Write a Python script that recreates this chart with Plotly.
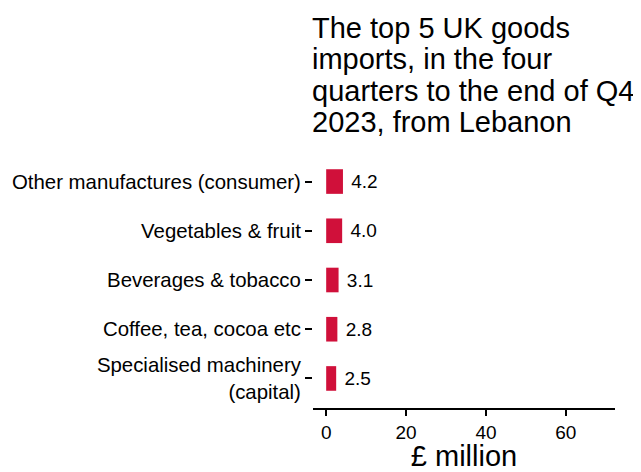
import plotly.graph_objects as go

categories = ["Other manufactures (consumer)", "Vegetables & fruit", "Beverages & tobacco",
              "Coffee, tea, cocoa etc", "Specialised machinery<br>(capital)"]
values = [4.2, 4.0, 3.1, 2.8, 2.5]
title_lines = ["The top 5 UK goods", "imports, in the four",
               "quarters to the end of Q4", "2023, from Lebanon"]
x_ticks = [0, 20, 40, 60]

FONT = "Liberation Sans, Arial, sans-serif"

fig = go.Figure(go.Bar(
    x=values, y=categories, orientation="h",
    marker=dict(color="#D0103A", line=dict(width=0)),
    width=0.5,
    text=["\u00a0" + f"{v:.1f}" for v in values],
    textposition="outside", cliponaxis=False,
    textfont=dict(family=FONT, size=19, color="black"),
))

title_y = [1.484, 1.363, 1.240, 1.117]
annotations = [dict(text=t, xref="paper", yref="paper", x=-0.01, y=yy, xanchor="left",
                    yanchor="middle", showarrow=False,
                    font=dict(family=FONT, size=29, color="black"))
               for t, yy in zip(title_lines, title_y)]

fig.update_layout(
    width=633, height=464,
    margin=dict(l=305, r=26, t=144, b=64, autoexpand=False),
    paper_bgcolor="white", plot_bgcolor="white",
    showlegend=False,
    annotations=annotations,
    font=dict(family=FONT, color="black"),
)
fig.update_xaxes(
    range=[-3.3, 72.3], tickvals=x_ticks, showgrid=False, zeroline=False,
    showline=True, linecolor="black", linewidth=1.5, automargin=False,
    ticks="outside", ticklen=6, tickwidth=1.5, tickcolor="black",
    tickfont=dict(family=FONT, size=19, color="black"),
    title=dict(text="£ million", font=dict(family=FONT, size=29, color="black"), standoff=10),
)
fig.update_yaxes(
    categoryorder="array", categoryarray=categories[::-1], range=[-0.6, 4.6],
    showgrid=False, zeroline=False, showline=False, automargin=False,
    ticks="outside", ticklen=7, tickwidth=1.5, tickcolor="black",
    tickfont=dict(family=FONT, size=20.4, color="black"),
)
fig.write_html("out.html")
